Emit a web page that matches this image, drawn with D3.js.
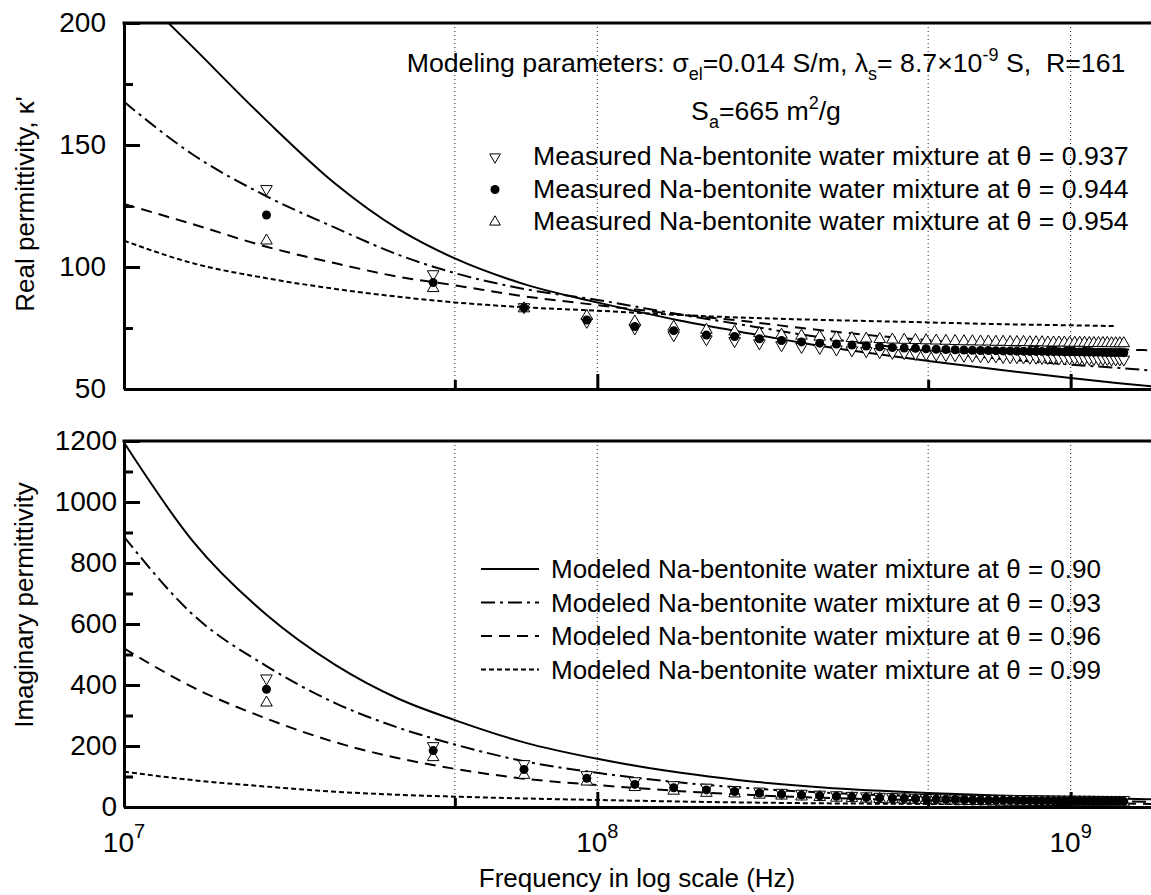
<!DOCTYPE html>
<html>
<head>
<meta charset="utf-8">
<script src="https://cdn.jsdelivr.net/npm/d3@7"></script>
<style>
  body { margin: 0; background: #fff; }
  svg { display: block; font-family: "Liberation Sans", Arial, sans-serif; }
</style>
</head>
<body>
<div class="chart"></div>
<script>
// measured frequencies, MHz
var measFreq = [20, 45, 70, 95, 120, 145, 170, 195, 220, 245, 270, 295, 320, 345, 370, 395, 420, 445, 470, 495,
  520, 545, 570, 595, 620, 645, 670, 695, 720, 745, 770, 795, 820, 845, 870, 895, 920, 945, 970, 995,
  1020, 1045, 1070, 1095, 1120, 1145, 1170, 1195, 1220, 1245, 1270, 1295];

// real permittivity, measured
var re937 = [132, 97.1, 83.6, 77.6, 74.9, 72.1, 70.4, 69.7, 68.8, 68.0,
  67.3, 66.9, 66.3, 65.9, 65.6, 65.2, 64.9, 64.8, 64.5, 64.3,
  64.2, 64.0, 63.9, 63.7, 63.7, 63.5, 63.4, 63.4, 63.2, 63.1,
  63.1, 63.0, 62.9, 62.9, 62.8, 62.8, 62.7, 62.6, 62.6, 62.6,
  62.5, 62.5, 62.4, 62.4, 62.4, 62.3, 62.3, 62.3, 62.2, 62.2, 62.2, 62.1];
var re944 = [121.3, 93.6, 83.3, 78.3, 75.6, 73.9, 72.1, 71.5, 70.6, 69.9,
  69.3, 68.8, 68.4, 68.0, 67.6, 67.3, 67.0, 66.8, 66.7, 66.5,
  66.3, 66.2, 66.1, 66.0, 65.9, 65.8, 65.8, 65.7, 65.6, 65.6,
  65.5, 65.5, 65.4, 65.4, 65.4, 65.3, 65.3, 65.3, 65.2, 65.2,
  65.2, 65.2, 65.1, 65.1, 65.1, 65.1, 65.0, 65.0, 65.0, 65.0, 65.0, 64.9];
var re954 = [110.8, 91.3, 83.0, 79.9, 77.6, 75.5, 74.2, 73.5, 72.8, 72.2,
  71.8, 71.4, 71.1, 70.8, 70.6, 70.4, 70.2, 70.1, 70.0, 69.9,
  69.8, 69.7, 69.6, 69.5, 69.5, 69.4, 69.4, 69.3, 69.3, 69.2,
  69.2, 69.2, 69.1, 69.1, 69.1, 69.0, 69.0, 69.0, 69.0, 68.9,
  68.9, 68.9, 68.9, 68.8, 68.8, 68.8, 68.8, 68.8, 68.7, 68.7, 68.7, 68.7];

// imaginary permittivity, measured
var im937 = [422, 200, 141, 105, 85, 72, 64, 56, 51, 47,
  44, 41, 39, 37, 35.5, 34, 33, 32, 31, 30,
  29.5, 29, 28.5, 28, 27.5, 27, 26.8, 26.5, 26.2, 26,
  25.8, 25.5, 25.3, 25.1, 25, 24.8, 24.6, 24.5, 24.3, 24.2,
  24.1, 24, 23.9, 23.8, 23.7, 23.6, 23.5, 23.4, 23.3, 23.3, 23.2, 23.1];
var im944 = [386, 185, 123, 94, 74, 63, 56, 51, 46, 42,
  39, 37, 35, 33, 31.5, 30, 29, 28, 27, 26.3,
  25.5, 25, 24.5, 24, 23.5, 23, 22.6, 22.2, 21.8, 21.5,
  21.2, 21, 20.8, 20.5, 20.3, 20.1, 20, 19.8, 19.7, 19.5,
  19.4, 19.3, 19.2, 19.1, 19, 18.9, 18.8, 18.7, 18.6, 18.5, 18.5, 18.4];
var im954 = [342, 163, 105, 83, 65, 53, 46, 44, 40, 37,
  34, 32, 30, 28.5, 27, 26, 25, 24, 23, 22.3,
  21.6, 21, 20.5, 20, 19.5, 19, 18.6, 18.2, 17.8, 17.5,
  17.2, 17, 16.8, 16.5, 16.3, 16.1, 16, 15.8, 15.7, 15.5,
  15.4, 15.3, 15.2, 15.1, 15, 14.9, 14.8, 14.7, 14.6, 14.5, 14.5, 14.4];

// modeled curves, Hz
var modelFreq = [1e7, 1.4e7, 2e7, 2.8e7, 3.8e7, 5e7, 7e7, 1e8, 1.5e8, 2e8, 3e8, 5e8, 7e8, 1e9, 1.25e9, 1.5e9];
var reModel90 = [218, 190, 160, 134, 115.5, 103.5, 93, 85.5, 78, 73.5, 67.5, 61.5, 58, 54.5, 52.5, 51];
var reModel93 = [167.7, 146, 129, 116, 105, 97.5, 91, 86.5, 80.5, 76.5, 71, 65.5, 62.5, 60, 58.7, 57.5];
var reModel96 = [125.8, 117.5, 108.3, 101.5, 96, 92.5, 88, 84.4, 80.5, 78, 74, 70, 68.2, 67, 66.3, 65.8];
var reModel99 = [110.8, 101.5, 95.4, 91, 87.8, 85.5, 83.5, 82.1, 80.3, 79.3, 78.3, 77.3, 76.6, 76.1, 75.8, null];
var imModel90 = [1195, 870, 630, 465, 355, 285, 212, 158, 112, 88, 64, 46, 38, 32, 28, 25];
var imModel93 = [886, 630, 462, 340, 260, 205, 150, 112, 80, 64, 47, 34, 27, 22, 19, 17];
var imModel96 = [520, 392, 290, 212, 160, 125, 93, 72, 52, 41, 30, 22, 17, 14, 12, 10];
var imModel99 = [116, 88, 67, 50, 40, 34, 28, 23, 18, 15, 12, 10, 8.5, 7.5, 7, null];

var measuredLabels = ["0.937", "0.944", "0.954"];
var modelLabels = ["0.90", "0.93", "0.96", "0.99"];
var xTickExp = [7, 8, 9];

var width = 1151, height = 895;
var plotLeft = 124, plotRight = 1154;
var top1 = 23, bot1 = 389, top2 = 441, bot2 = 807;
var dashes = [null, "14,5,3,5", "11,7", "5,3"];

var svg = d3.select(".chart").append("svg")
  .attr("width", width).attr("height", height);
svg.append("rect").attr("width", width).attr("height", height).attr("fill", "#fff");

var x = d3.scaleLog().domain([1e7, 1.5e9]).range([plotLeft, plotRight]);
var yRe = d3.scaleLinear().domain([50, 200]).range([bot1, top1]);
var yIm = d3.scaleLinear().domain([0, 1200]).range([bot2, top2]);

var defs = svg.append("defs");
[[1, top1, bot1], [2, top2, bot2]].forEach(function(c) {
  defs.append("clipPath").attr("id", "clip" + c[0]).append("rect")
    .attr("x", plotLeft).attr("y", c[1]).attr("width", plotRight - plotLeft).attr("height", c[2] - c[1]);
});

function panel(y, yTop, yBot, clipId, models, meas, yMajor, yMinor, pad) {
  var g = svg.append("g");

  // dotted grid
  g.selectAll(".grid").data([5e7, 1e8, 5e8, 1e9]).enter().append("line")
    .attr("x1", function(d) { return x(d); }).attr("x2", function(d) { return x(d); })
    .attr("y1", yTop).attr("y2", yBot)
    .attr("stroke", "#222").attr("stroke-width", 1).attr("stroke-dasharray", "1,3");

  var line = d3.line()
    .defined(function(d) { return d[1] != null; })
    .x(function(d) { return x(d[0]); })
    .y(function(d) { return y(d[1]); })
    .curve(d3.curveMonotoneX);

  var cg = g.append("g").attr("clip-path", "url(#" + clipId + ")");
  models.forEach(function(vals, i) {
    cg.append("path")
      .datum(modelFreq.map(function(f, j) { return [f, vals[j]]; }))
      .attr("d", line)
      .attr("fill", "none").attr("stroke", "#000").attr("stroke-width", 2)
      .attr("stroke-dasharray", dashes[i]);
  });

  var tri = d3.symbol().type(d3.symbolTriangle).size(58);
  function pts(vals) { return measFreq.map(function(f, j) { return [f * 1e6, vals[j]]; }); }
  cg.selectAll(".dn").data(pts(meas[0])).enter().append("path")
    .attr("d", tri)
    .attr("transform", function(d) { return "translate(" + x(d[0]) + "," + y(d[1]) + ") rotate(180)"; })
    .attr("fill", "#fff").attr("stroke", "#000").attr("stroke-width", 1);
  cg.selectAll(".up").data(pts(meas[2])).enter().append("path")
    .attr("d", tri)
    .attr("transform", function(d) { return "translate(" + x(d[0]) + "," + y(d[1]) + ")"; })
    .attr("fill", "#fff").attr("stroke", "#000").attr("stroke-width", 1);
  cg.selectAll(".dot").data(pts(meas[1])).enter().append("circle")
    .attr("cx", function(d) { return x(d[0]); })
    .attr("cy", function(d) { return y(d[1]); })
    .attr("r", 4.5).attr("fill", "#000");

  // axes
  var ya = g.append("g").attr("transform", "translate(" + plotLeft + ",0)")
    .call(d3.axisLeft(y).tickValues(yMajor).tickSize(-16).tickSizeOuter(0).tickPadding(pad)
      .tickFormat(d3.format("d")));
  g.append("g").attr("transform", "translate(" + plotLeft + ",0)")
    .call(d3.axisLeft(y).tickValues(yMinor).tickSize(-9).tickSizeOuter(0).tickFormat(""))
    .select(".domain").remove();
  g.append("g").attr("transform", "translate(0," + yBot + ")")
    .call(d3.axisBottom(x).tickValues([1e8, 1e9]).tickSize(-15).tickSizeOuter(0).tickFormat(""));
  g.append("g").attr("transform", "translate(0," + yBot + ")")
    .call(d3.axisBottom(x).tickValues([5e7, 5e8]).tickSize(-9).tickSizeOuter(0).tickFormat(""))
    .select(".domain").remove();

  g.selectAll(".domain").attr("stroke-width", 3);
  g.selectAll(".tick line").attr("stroke-width", 3);
  ya.attr("font-size", 28).attr("font-family", null);
  ya.selectAll("text").attr("fill", "#000");

  g.append("line").attr("x1", plotLeft - 1.5).attr("x2", plotRight)
    .attr("y1", yTop).attr("y2", yTop).attr("stroke", "#000").attr("stroke-width", 3);
}

panel(yRe, top1, bot1, "clip1", [reModel90, reModel93, reModel96, reModel99],
  [re937, re944, re954], [50, 100, 150, 200], [75, 125, 175], 18);
panel(yIm, top2, bot2, "clip2", [imModel90, imModel93, imModel96, imModel99],
  [im937, im944, im954], [0, 200, 400, 600, 800, 1000, 1200], [100, 300, 500, 700, 900, 1100], 7);

// x tick labels
var xl = svg.selectAll(".xlab").data(xTickExp).enter().append("text")
  .attr("x", function(d) { return x(Math.pow(10, d)); })
  .attr("y", 852).attr("text-anchor", "middle").attr("font-size", 28);
xl.append("tspan").text("10");
xl.append("tspan").attr("dy", -14).attr("font-size", 20).text(function(d) { return d; });

// axis titles
svg.append("text").attr("transform", "translate(34,204) rotate(-90)")
  .attr("text-anchor", "middle").attr("font-size", 26).text("Real permittivity, \u03ba'");
svg.append("text").attr("transform", "translate(33,605) rotate(-90)")
  .attr("text-anchor", "middle").attr("font-size", 26).text("Imaginary permittivity");
svg.append("text").attr("x", 637).attr("y", 887)
  .attr("text-anchor", "middle").attr("font-size", 26).text("Frequency in log scale (Hz)");

// parameters note
var p1 = svg.append("text").attr("x", 766).attr("y", 72).attr("text-anchor", "middle")
  .attr("font-size", 26.7).style("white-space", "pre");
p1.append("tspan").text("Modeling parameters: \u03c3");
p1.append("tspan").attr("dy", 8).attr("font-size", 18).text("el");
p1.append("tspan").attr("dy", -8).text("=0.014 S/m, \u03bb");
p1.append("tspan").attr("dy", 8).attr("font-size", 18).text("s");
p1.append("tspan").attr("dy", -8).text("= 8.7\u00d710");
p1.append("tspan").attr("dy", -11).attr("font-size", 18).text("-9");
p1.append("tspan").attr("dy", 11).text(" S,  R=161");

var p2 = svg.append("text").attr("x", 766).attr("y", 120).attr("text-anchor", "middle")
  .attr("font-size", 26.7);
p2.append("tspan").text("S");
p2.append("tspan").attr("dy", 8).attr("font-size", 18).text("a");
p2.append("tspan").attr("dy", -8).text("=665 m");
p2.append("tspan").attr("dy", -11).attr("font-size", 18).text("2");
p2.append("tspan").attr("dy", 11).text("/g");

// measured legend
var leg1 = svg.append("g");
measuredLabels.forEach(function(lab, i) {
  var by = 165 + i * 32.5;
  if (i === 1) {
    leg1.append("circle").attr("cx", 495).attr("cy", by - 8).attr("r", 4.5).attr("fill", "#000");
  } else {
    leg1.append("path").attr("d", d3.symbol().type(d3.symbolTriangle).size(50))
      .attr("transform", "translate(495," + (by - 8) + ")" + (i === 0 ? " rotate(180)" : ""))
      .attr("fill", "#fff").attr("stroke", "#000").attr("stroke-width", 1);
  }
  leg1.append("text").attr("x", 533).attr("y", by).attr("font-size", 26.7)
    .text("Measured Na-bentonite water mixture at \u03b8 = " + lab);
});

// model legend
var leg2 = svg.append("g");
modelLabels.forEach(function(lab, i) {
  var by = 578 + i * 33.5;
  leg2.append("line").attr("x1", 481).attr("x2", 539).attr("y1", by - 9).attr("y2", by - 9)
    .attr("stroke", "#000").attr("stroke-width", 2).attr("stroke-dasharray", dashes[i]);
  leg2.append("text").attr("x", 551).attr("y", by).attr("font-size", 26)
    .text("Modeled Na-bentonite water mixture at \u03b8 = " + lab);
});
</script>
</body>
</html>
